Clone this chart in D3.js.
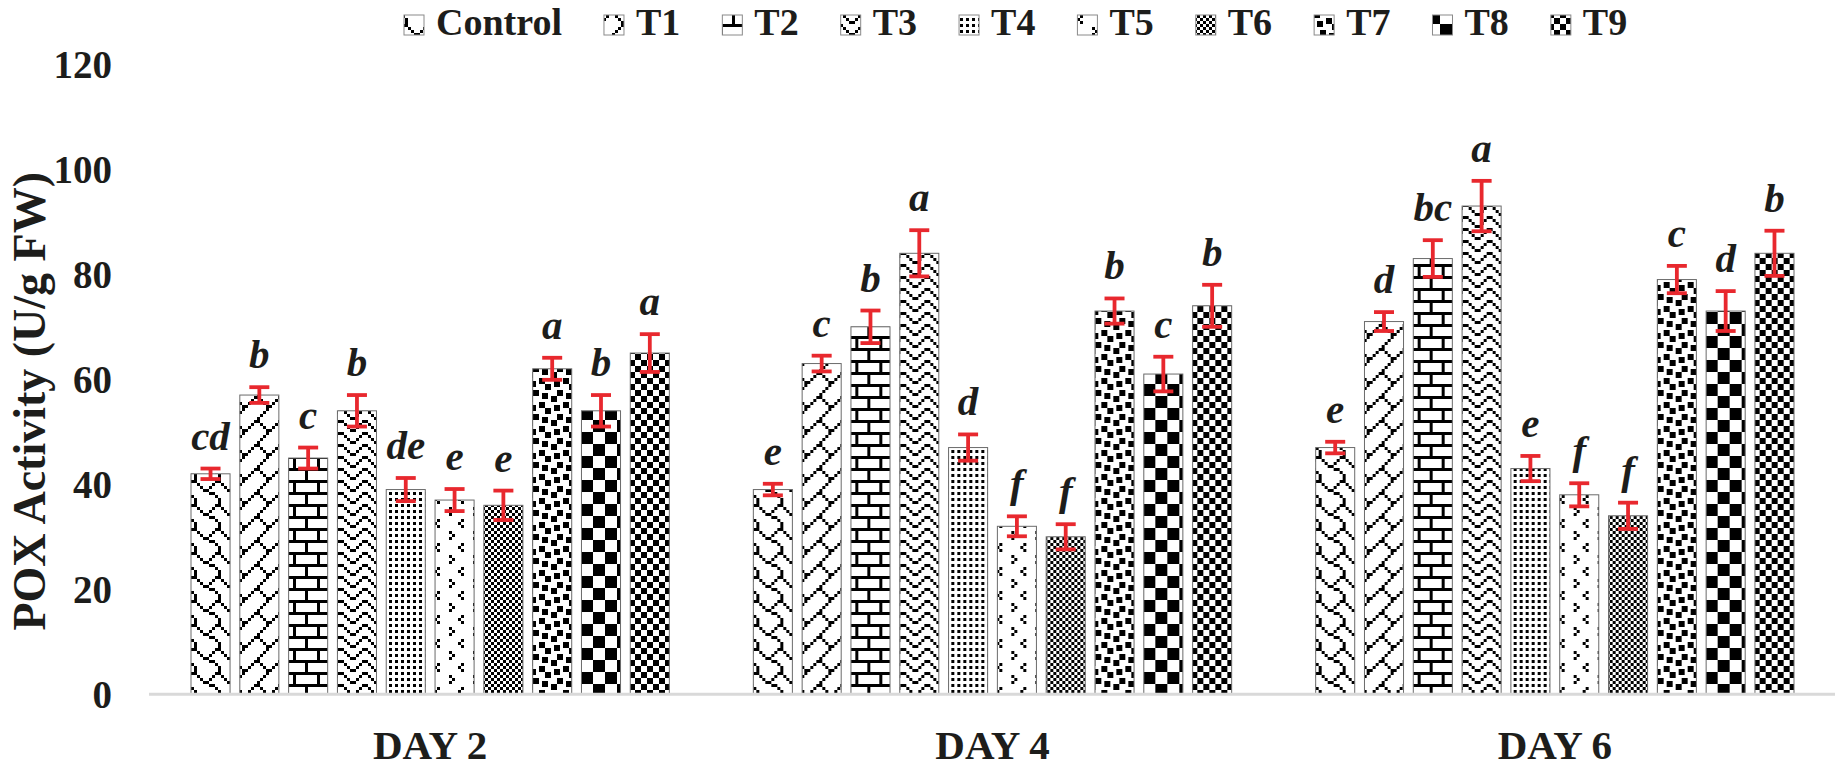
<!DOCTYPE html>
<html>
<head>
<meta charset="utf-8">
<script src="https://cdn.jsdelivr.net/npm/d3@7"></script>
<style>
  html, body { margin: 0; padding: 0; background: #fff; }
  svg { display: block; }
  text { font-family: "Liberation Serif", "Times New Roman", serif; fill: #1d1d1b; }
</style>
</head>
<body>
<svg id="chart" width="1837" height="771"></svg>
<script>
// ---------- data ----------
const days = ["DAY 2", "DAY 4", "DAY 6"];
const treatments = ["Control", "T1", "T2", "T3", "T4", "T5", "T6", "T7", "T8", "T9"];
const day2Values = [42, 57, 45, 54, 39, 37, 36, 62, 54, 65];
const day4Values = [39, 63, 70, 84, 47, 32, 30, 73, 61, 74];
const day6Values = [47, 71, 83, 93, 43, 38, 34, 79, 73, 84];
const day2Errors = [1.0, 1.5, 2.0, 3.0, 2.2, 2.1, 2.8, 2.1, 3.0, 3.6];
const day4Errors = [1.1, 1.5, 3.1, 4.4, 2.5, 1.9, 2.4, 2.4, 3.3, 4.0];
const day6Errors = [1.1, 1.8, 3.5, 4.8, 2.4, 2.2, 2.5, 2.6, 3.8, 4.3];
const day2Letters = ["cd", "b", "c", "b", "de", "e", "e", "a", "b", "a"];
const day4Letters = ["e", "c", "b", "a", "d", "f", "f", "b", "c", "b"];
const day6Letters = ["e", "d", "bc", "a", "e", "f", "f", "c", "d", "b"];
const yTicks = [0, 20, 40, 60, 80, 100, 120];
const yTitle = "POX Activity (U/g FW)";

const valuesByDay = [day2Values, day4Values, day6Values];
const errorsByDay = [day2Errors, day4Errors, day6Errors];
const lettersByDay = [day2Letters, day4Letters, day6Letters];

// ---------- pattern bitmaps (Excel-style 8x8 fills) ----------
const patternBits = {
  "Control": [0x03, 0x84, 0x48, 0x30, 0x0C, 0x02, 0x01, 0x01], // shingle
  "T1": [0x01, 0x02, 0x04, 0x08, 0x18, 0x24, 0x42, 0x81],      // diagonal brick
  "T2": [0xFF, 0x80, 0x80, 0x80, 0xFF, 0x08, 0x08, 0x08],      // horizontal brick
  "T3": [0x81, 0x42, 0x24, 0x18, 0x81, 0x42, 0x24, 0x18],      // zig zag
  "T4": [0xAA, 0x00, 0xAA, 0x00, 0xAA, 0x00, 0xAA, 0x00],      // dotted grid
  "T5": [0x00, 0x08, 0x04, 0x08, 0x00, 0x80, 0x01, 0x80],      // divot
  "T6": [0xAA, 0x55, 0xAA, 0x55, 0xAA, 0x55, 0xAA, 0x55],      // 50%
  "T7": [0x8D, 0x0C, 0xC0, 0xD8, 0x1B, 0x03, 0x30, 0xB1],      // large confetti
  "T8": [0xF0, 0xF0, 0xF0, 0xF0, 0x0F, 0x0F, 0x0F, 0x0F],      // large checkerboard
  "T9": [0xCC, 0xCC, 0x33, 0x33, 0xCC, 0xCC, 0x33, 0x33]       // small checkerboard
};

// ---------- layout ----------
const svg = d3.select("#chart");
const plotLeft = 149, plotRight = 1836, baseY = 694.3, topY = 64.3;
const pix = 3; // pattern pixel size

const defs = svg.append("defs");
treatments.forEach((t, i) => {
  const p = defs.append("pattern")
    .attr("id", "pat" + i)
    .attr("patternUnits", "userSpaceOnUse")
    .attr("width", 8 * pix).attr("height", 8 * pix);
  p.append("rect").attr("width", 8 * pix).attr("height", 8 * pix).attr("fill", "#fff");
  patternBits[t].forEach((row, r) => {
    for (let c = 0; c < 8; c++) {
      if (row & (0x80 >> c)) {
        p.append("rect").attr("x", c * pix).attr("y", r * pix)
          .attr("width", pix).attr("height", pix).attr("fill", "#000");
      }
    }
  });
});

const x0 = d3.scaleBand().domain(days).range([plotLeft, plotRight]).padding(0);
const outer = 42;
const x1 = d3.scaleBand().domain(treatments)
  .range([outer, x0.bandwidth() - outer]).paddingInner(0.2).paddingOuter(0);
const y = d3.scaleLinear().domain([0, 120]).range([baseY, topY]);

// y tick labels
const yAxis = d3.axisLeft(y).tickValues(yTicks).tickSize(0).tickPadding(0);
const yg = svg.append("g").attr("transform", "translate(112,0)").call(yAxis);
yg.select(".domain").remove();
yg.selectAll("text")
  .attr("font-family", "'Liberation Serif', serif")
  .attr("font-weight", "bold")
  .attr("font-size", 39)
  .attr("fill", "#1d1d1b")
  .attr("dy", "0.35em")
  .attr("text-anchor", "end");

// y title
svg.append("text")
  .attr("transform", `translate(45,${(baseY + topY) / 2 + 22}) rotate(-90)`)
  .attr("text-anchor", "middle")
  .attr("font-weight", "bold")
  .attr("font-size", 46)
  .text(yTitle);

// groups
const groups = svg.append("g").selectAll("g")
  .data(days).join("g")
  .attr("transform", d => `translate(${x0(d)},0)`);

groups.each(function (day, di) {
  const g = d3.select(this);
  const rows = treatments.map((t, i) => ({
    t, i, v: valuesByDay[di][i], e: errorsByDay[di][i], s: lettersByDay[di][i]
  }));
  g.selectAll("rect.bar").data(rows).join("rect")
    .attr("class", "bar")
    .attr("x", d => x1(d.t))
    .attr("y", d => y(d.v))
    .attr("width", x1.bandwidth())
    .attr("height", d => baseY - y(d.v))
    .attr("fill", d => `url(#pat${d.i})`)
    .attr("stroke", "#6b6b6b")
    .attr("stroke-width", 1);

  const eb = g.selectAll("g.err").data(rows).join("g").attr("class", "err")
    .attr("stroke", "#e8282e").attr("stroke-width", 3.8);
  eb.append("line")
    .attr("x1", d => x1(d.t) + x1.bandwidth() / 2)
    .attr("x2", d => x1(d.t) + x1.bandwidth() / 2)
    .attr("y1", d => y(d.v + d.e)).attr("y2", d => y(d.v - d.e));
  eb.append("line")
    .attr("x1", d => x1(d.t) + x1.bandwidth() / 2 - 10)
    .attr("x2", d => x1(d.t) + x1.bandwidth() / 2 + 10)
    .attr("y1", d => y(d.v + d.e)).attr("y2", d => y(d.v + d.e));
  eb.append("line")
    .attr("x1", d => x1(d.t) + x1.bandwidth() / 2 - 10)
    .attr("x2", d => x1(d.t) + x1.bandwidth() / 2 + 10)
    .attr("y1", d => y(d.v - d.e)).attr("y2", d => y(d.v - d.e));

  g.selectAll("text.sig").data(rows).join("text")
    .attr("class", "sig")
    .attr("x", d => x1(d.t) + x1.bandwidth() / 2)
    .attr("y", d => y(d.v + d.e) - 19)
    .attr("text-anchor", "middle")
    .attr("font-weight", "bold")
    .attr("font-style", "italic")
    .attr("font-size", 41)
    .text(d => d.s);
});

// x axis line
svg.append("line")
  .attr("x1", plotLeft).attr("x2", plotRight - 1)
  .attr("y1", baseY).attr("y2", baseY)
  .attr("stroke", "#d9d9d9").attr("stroke-width", 3);

// x labels
svg.append("g").selectAll("text").data(days).join("text")
  .attr("x", d => x0(d) + x0.bandwidth() / 2)
  .attr("y", 759)
  .attr("text-anchor", "middle")
  .attr("font-weight", "bold")
  .attr("font-size", 41)
  .text(d => d);

// legend
const legend = svg.append("g");
let lx = 404;
treatments.forEach((t, i) => {
  legend.append("rect")
    .attr("x", lx).attr("y", 15).attr("width", 20).attr("height", 20)
    .attr("fill", `url(#pat${i})`)
    .attr("stroke", "#8a8a8a").attr("stroke-width", 1);
  const txt = legend.append("text")
    .attr("x", lx + 32).attr("y", 35)
    .attr("font-weight", "bold")
    .attr("font-size", 38)
    .text(t);
  lx = lx + 32 + txt.node().getComputedTextLength() + 42;
});
</script>
</body>
</html>
